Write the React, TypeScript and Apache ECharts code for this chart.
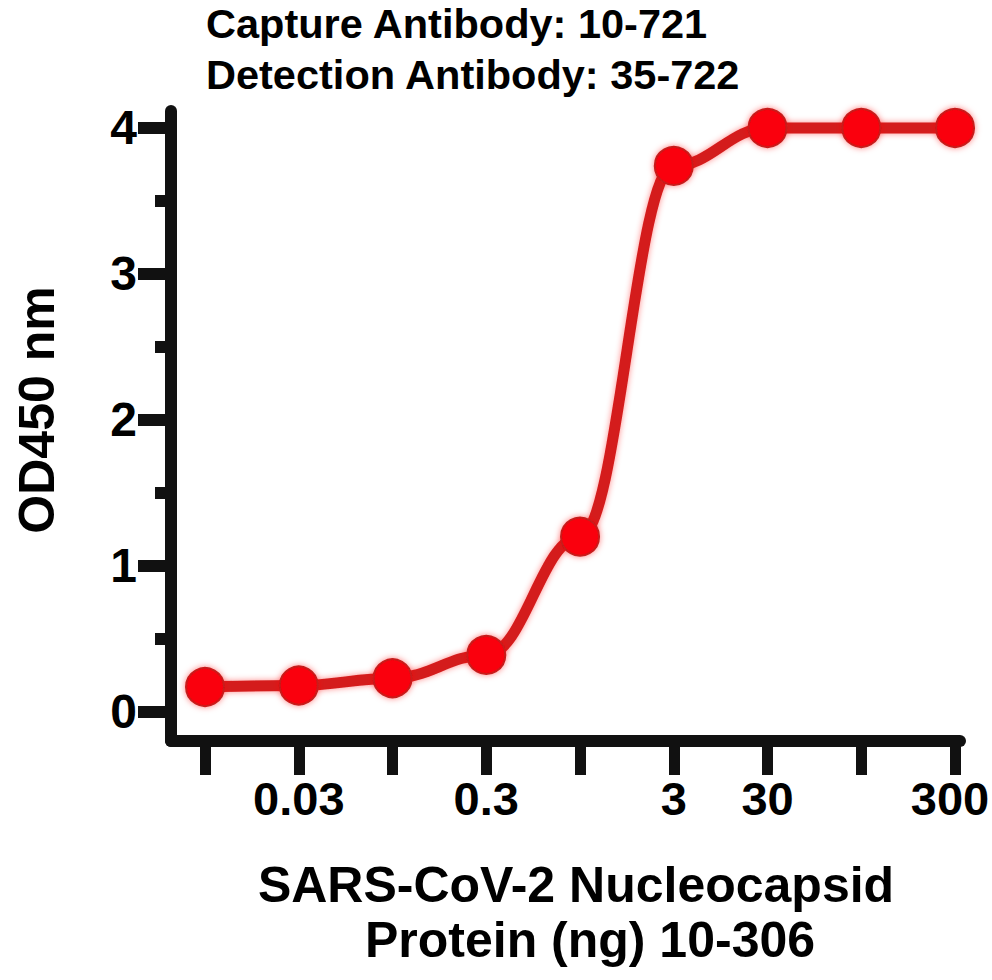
import React, { useEffect, useRef } from "react";
import * as echarts from "echarts";

// x positions are the dilution steps, labelled only on some ticks
const doseSteps = [0, 1, 2, 3, 4, 5, 6, 7, 8];
const od450 = [0.17, 0.18, 0.23, 0.39, 1.2, 3.74, 4.0, 4.0, 4.0];
const xTickLabels = ["", "0.03", "", "0.3", "", "3", "30", "", "300"];
const xLabelSteps = [1, 3, 5, 6, 8];
const yTicks = [0, 1, 2, 3, 4];
const yMinorTicks = [0.5, 1.5, 2.5, 3.5];

const titleLines = ["Capture Antibody: 10-721", "Detection Antibody: 35-722"];
const xNameLines = ["SARS-CoV-2 Nucleocapsid", "Protein (ng) 10-306"];
const yName = "OD450 nm";

const FONT = "'Liberation Sans', Arial, sans-serif";
const AXIS = "#111111";

const App: React.FC = () => {
  const chartref = useRef<HTMLDivElement>(null);

  useEffect(() => {
    document.body.style.margin = "0";
    const myChart = echarts.init(chartref.current as HTMLDivElement, null, {
      renderer: "svg",
    });

    const bold = (size: number) => ({
      fontFamily: FONT,
      fontWeight: "bold" as const,
      fontSize: size,
      fill: "#000",
    });

    const tickFont = {
      color: "#000",
      fontFamily: FONT,
      fontWeight: "bold" as const,
      fontSize: 47,
    };

    const option: echarts.EChartsOption = {
      animation: false,
      backgroundColor: "#ffffff",
      grid: {
        left: 171,
        top: 111,
        width: 789,
        height: 630,
        containLabel: false,
        outerBoundsMode: "none",
      } as any,
      graphic: [
        {
          type: "text",
          left: 206,
          top: 2,
          style: { ...bold(41.5), text: titleLines[0] },
        },
        {
          type: "text",
          left: 206,
          top: 53,
          style: { ...bold(41.5), text: titleLines[1] },
        },
        {
          type: "text",
          x: 37,
          y: 410,
          rotation: Math.PI / 2,
          style: {
            ...bold(50),
            text: yName,
            align: "center",
            verticalAlign: "middle",
          },
        },
        {
          type: "text",
          x: 576,
          y: 885,
          style: {
            ...bold(50),
            text: xNameLines[0],
            align: "center",
            verticalAlign: "middle",
          },
        },
        {
          type: "text",
          x: 590,
          y: 940,
          style: {
            ...bold(50),
            text: xNameLines[1],
            align: "center",
            verticalAlign: "middle",
          },
        },
      ],
      xAxis: {
        type: "value",
        min: -0.363,
        max: 8.053,
        splitLine: { show: false },
        axisLine: {
          show: true,
          onZero: false,
          lineStyle: { color: AXIS, width: 12 },
        },
        axisTick: {
          show: true,
          length: 34,
          customValues: doseSteps,
          lineStyle: { color: AXIS, width: 11 },
        },
        axisLabel: {
          customValues: xLabelSteps,
          formatter: (v: number) => {
            const i = Math.round(v);
            const t = xTickLabels[i] ?? "";
            return i === doseSteps.length - 1 ? `{last|${t}}` : t;
          },
          margin: 34,
          ...tickFont,
          rich: {
            last: { ...tickFont, padding: [0, 10, 0, 0] },
          },
        },
      },
      yAxis: [
        {
          type: "value",
          min: -0.2,
          max: 4.116,
          splitLine: { show: false },
          axisLine: {
            show: true,
            onZero: false,
            lineStyle: { color: AXIS, width: 12 },
          },
          axisTick: {
            show: true,
            length: 33,
            customValues: yTicks,
            lineStyle: { color: AXIS, width: 12 },
          },
          axisLabel: {
            customValues: yTicks,
            margin: 34,
            ...tickFont,
            fontSize: 48,
          },
        },
        {
          type: "value",
          position: "left",
          min: -0.2,
          max: 4.116,
          splitLine: { show: false },
          axisLine: { show: false, onZero: false },
          axisTick: {
            show: true,
            length: 16,
            customValues: yMinorTicks,
            lineStyle: { color: AXIS, width: 12 },
          },
          axisLabel: { show: false },
        },
      ],
      series: [
        {
          type: "line",
          data: doseSteps.map((x, i) => [x, od450[i]]),
          smooth: 0.4,
          smoothMonotone: "x",
          symbol: "circle",
          symbolSize: 38,
          lineStyle: {
            color: "#d41c1c",
            width: 11,
            shadowColor: "rgba(255,0,0,0.45)",
            shadowBlur: 6,
          },
          itemStyle: {
            color: "#fa0008",
            borderColor: "#c81a1a",
            borderWidth: 2,
            shadowColor: "rgba(255,0,0,0.5)",
            shadowBlur: 6,
          },
        },
      ],
    };

    myChart.setOption(option);

    return () => {
      myChart.dispose();
    };
  }, []);

  return <div ref={chartref} style={{ width: "992px", height: "980px" }} />;
};

export default App;
